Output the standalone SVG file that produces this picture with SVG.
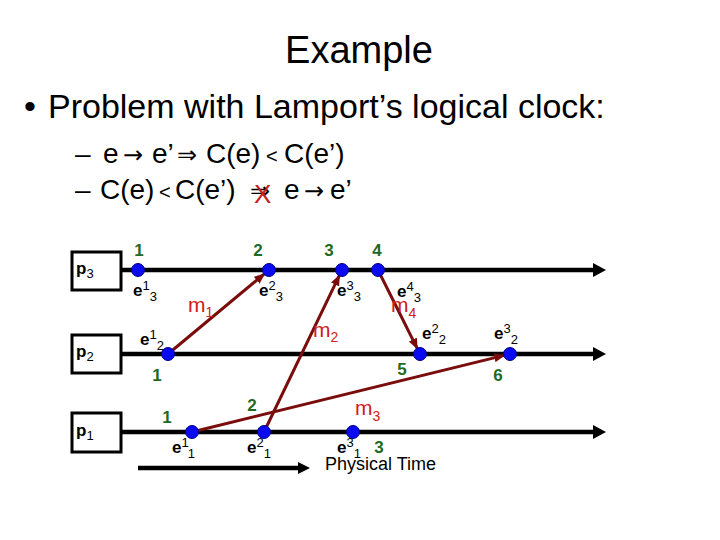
<svg xmlns="http://www.w3.org/2000/svg" width="720" height="540" viewBox="0 0 720 540">
<style>
text{font-family:"Liberation Sans",Arial,sans-serif}
.title{font-size:38px;fill:#000}
.h1{font-size:34px;fill:#000}
.h2{font-size:28px;fill:#000}
.sym{font-size:24px;fill:#000;font-family:"DejaVu Sans","Liberation Sans",sans-serif}
.lt{font-size:20px;fill:#000}
.cross{font-size:26px;fill:#c02020}
.box{fill:#fff;stroke:#000;stroke-width:3}
.pl{font-size:17px;font-weight:bold;fill:#000}
.psub{font-size:13px;font-weight:normal}
.tl{stroke:#000;stroke-width:4.5;fill:none}
.head{fill:#000}
.dot{fill:#0a0af0;stroke:#00008a;stroke-width:1}
.msg{stroke:#7a0c0c;stroke-width:3;fill:none;marker-end:url(#mh)}
.num{font-size:17px;font-weight:bold;fill:#1f6a1f;text-anchor:middle}
.ev{font-size:17px;font-weight:bold;fill:#000}
.es{font-size:13px;font-weight:normal}
.ml{font-size:21px;fill:#d02020}
.ms{font-size:14px}
.pt{font-size:18px;fill:#000}
</style>
<defs>
<marker id="mh" markerUnits="userSpaceOnUse" markerWidth="11" markerHeight="9" refX="10" refY="4.5" orient="auto">
<path d="M0,0 L11,4.5 L0,9 z" fill="#7a0c0c"/>
</marker>
</defs>

<g id="header">
<text class="title" x="359" y="63" text-anchor="middle">Example</text>
<text class="h1" x="24" y="118">•</text>
<text class="h1" x="48" y="118">Problem with Lamport’s logical clock:</text>
<text class="h2" x="75" y="163">–</text>
<text class="h2" x="103" y="163">e</text>
<text class="sym" x="123" y="163">→</text>
<text class="h2" x="152" y="163">e’</text>
<text class="sym" x="177" y="163">⇒</text>
<text class="h2" x="206" y="163">C(e)</text>
<text class="lt" x="266" y="163">&lt;</text>
<text class="h2" x="284" y="163">C(e’)</text>
<text class="h2" x="75" y="199">–</text>
<text class="h2" x="100" y="199">C(e)</text>
<text class="lt" x="159" y="199">&lt;</text>
<text class="h2" x="175" y="199">C(e’)</text>
<text class="sym" x="250" y="199">⇒</text>
<text class="cross" x="254" y="203">X</text>
<text class="h2" x="284" y="199">e</text>
<text class="sym" x="304" y="199">→</text>
<text class="h2" x="330" y="199">e’</text>
</g>

<g id="p3">
<rect class="box" x="72" y="252" width="49" height="38"/>
<text class="pl" x="76" y="274">p<tspan class="psub" dy="4">3</tspan></text>
</g>
<g id="p2">
<rect class="box" x="72" y="335" width="49" height="38"/>
<text class="pl" x="76" y="357">p<tspan class="psub" dy="4">2</tspan></text>
</g>
<g id="p1">
<rect class="box" x="72" y="413" width="49" height="39"/>
<text class="pl" x="76" y="436">p<tspan class="psub" dy="4">1</tspan></text>
</g>

<g id="timelines">
<line class="tl" x1="121" y1="270" x2="595" y2="270"/>
<path class="head" d="M593,263 L606,270 L593,277 z"/>
<line class="tl" x1="121" y1="354" x2="595" y2="354"/>
<path class="head" d="M593,347 L606,354 L593,361 z"/>
<line class="tl" x1="121" y1="432" x2="595" y2="432"/>
<path class="head" d="M593,425 L606,432 L593,439 z"/>
</g>

<g id="connectors">
<line id="m1" class="msg" x1="168" y1="354" x2="264.4" y2="273.8"/>
<line id="m2" class="msg" x1="264" y1="432" x2="339.4" y2="275.4"/>
<line id="m3" class="msg" x1="192" y1="432" x2="504.2" y2="355.4"/>
<line id="m4" class="msg" x1="378" y1="270" x2="417.3" y2="348.6"/>
</g>

<g id="events">
<circle class="dot" cx="138" cy="270" r="6.5"/>
<circle class="dot" cx="269" cy="270" r="6.5"/>
<circle class="dot" cx="342" cy="270" r="6.5"/>
<circle class="dot" cx="378" cy="270" r="6.5"/>
<circle class="dot" cx="168" cy="354" r="6.5"/>
<circle class="dot" cx="420" cy="354" r="6.5"/>
<circle class="dot" cx="510" cy="354" r="6.5"/>
<circle class="dot" cx="192" cy="432" r="6.5"/>
<circle class="dot" cx="264" cy="432" r="6.5"/>
<circle class="dot" cx="353" cy="432" r="6.5"/>
</g>

<g id="clock-values">
<text class="num" x="139" y="256">1</text>
<text class="num" x="258" y="256">2</text>
<text class="num" x="329" y="256">3</text>
<text class="num" x="377" y="256">4</text>
<text class="num" x="157" y="381">1</text>
<text class="num" x="402" y="375">5</text>
<text class="num" x="498" y="381">6</text>
<text class="num" x="167" y="423">1</text>
<text class="num" x="252" y="411">2</text>
<text class="num" x="379" y="453">3</text>
</g>

<g id="event-labels">
<text class="ev" x="133" y="296">e<tspan class="es" dy="-6">1</tspan><tspan class="es" dy="11">3</tspan></text>
<text class="ev" x="259" y="296">e<tspan class="es" dy="-6">2</tspan><tspan class="es" dy="11">3</tspan></text>
<text class="ev" x="337" y="296">e<tspan class="es" dy="-6">3</tspan><tspan class="es" dy="11">3</tspan></text>
<text class="ev" x="397" y="297">e<tspan class="es" dy="-6">4</tspan><tspan class="es" dy="11">3</tspan></text>
<text class="ev" x="140" y="345">e<tspan class="es" dy="-6">1</tspan><tspan class="es" dy="11">2</tspan></text>
<text class="ev" x="422" y="339">e<tspan class="es" dy="-6">2</tspan><tspan class="es" dy="11">2</tspan></text>
<text class="ev" x="494" y="339">e<tspan class="es" dy="-6">3</tspan><tspan class="es" dy="11">2</tspan></text>
<text class="ev" x="172" y="453">e<tspan class="es" dy="-6">1</tspan><tspan class="es" dy="11">1</tspan></text>
<text class="ev" x="247" y="453">e<tspan class="es" dy="-6">2</tspan><tspan class="es" dy="11">1</tspan></text>
<text class="ev" x="337" y="453">e<tspan class="es" dy="-6">3</tspan><tspan class="es" dy="11">1</tspan></text>
</g>

<g id="message-labels">
<text class="ml" x="188" y="312">m<tspan class="ms" dy="5">1</tspan></text>
<text class="ml" x="313" y="337">m<tspan class="ms" dy="5">2</tspan></text>
<text class="ml" x="355" y="415">m<tspan class="ms" dy="6">3</tspan></text>
<text class="ml" x="391" y="312">m<tspan class="ms" dy="6">4</tspan></text>
</g>

<g id="physical-time">
<line class="tl" x1="138" y1="468" x2="300" y2="468"/>
<path class="head" d="M298,462 L310,468 L298,474 z"/>
<text class="pt" x="325" y="470">Physical Time</text>
</g>
</svg>
